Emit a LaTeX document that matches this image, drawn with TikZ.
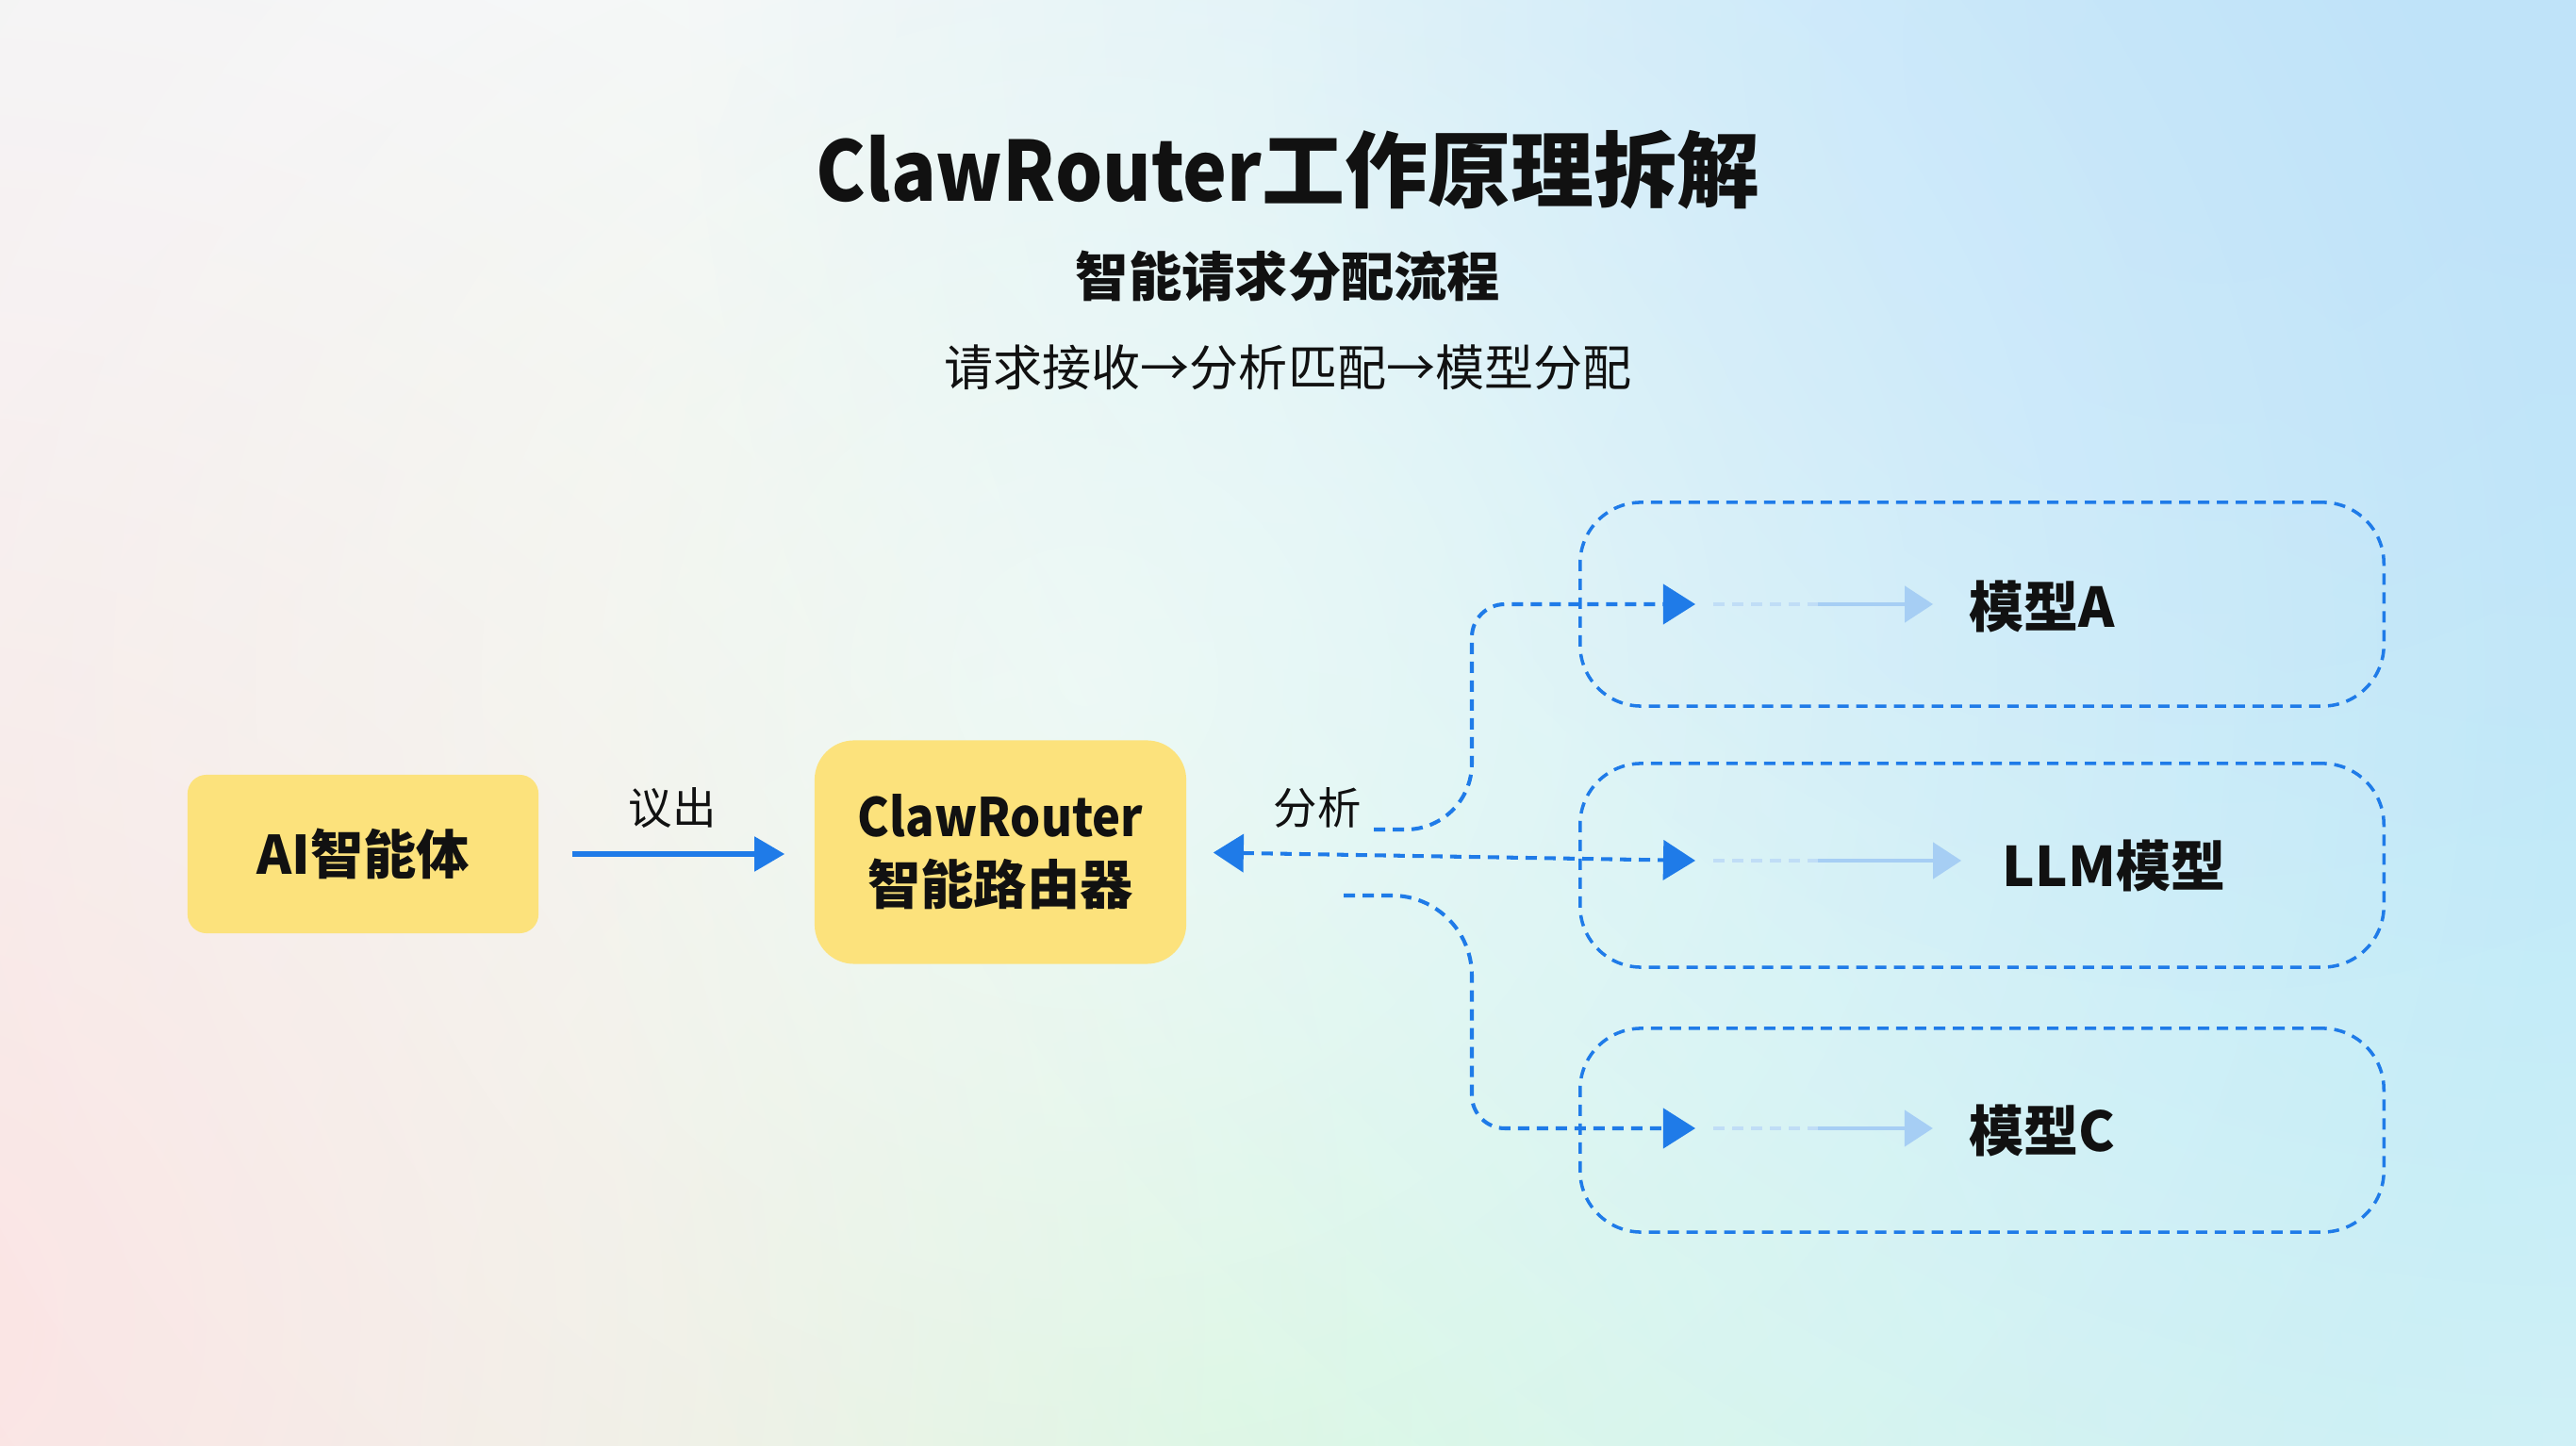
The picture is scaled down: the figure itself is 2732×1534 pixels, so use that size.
\documentclass[tikz,border=0pt]{standalone}
\usepackage{fontspec}
\setmainfont{Noto Sans CJK SC}
\usetikzlibrary{arrows.meta,fadings}
\definecolor{bluem}{HTML}{1F7BE8}
\definecolor{bluel}{HTML}{A6CEF4}
\definecolor{bluef}{HTML}{C0DDF6}
\definecolor{yel}{HTML}{FCE27C}
\definecolor{ink}{HTML}{111111}
\definecolor{bgbase}{HTML}{F3F6F7}
\definecolor{bgblue}{HTML}{BFE3FA}
\definecolor{bgcyan}{HTML}{C6F4F8}
\definecolor{bggreen}{HTML}{D2F8D4}
\definecolor{bgpink}{HTML}{FCE2E2}
\tikzfading[name=blobfade, inner color=transparent!0, outer color=transparent!100]
\newcommand{\narrow}[1]{\scalebox{0.9}[1]{#1}}
\tikzset{
  ybox/.style={fill=yel, text=ink, font=\bfseries\fontsize{16}{20.5}\selectfont, align=center, inner sep=0pt},
  mbox/.style={draw=bluem, line width=1pt, dash pattern=on 0.12cm off 0.08cm, rounded corners=0.65cm,
    minimum width=8.52cm, minimum height=2.16cm, inner sep=0pt},
  dline/.style={draw=bluem, line width=1.15pt, dash pattern=on 0.12cm off 0.08cm},
  tipm/.style={-{Triangle[length=0.34cm,width=0.42cm]}},
  fdash/.style={draw=bluef, line width=1.15pt, dash pattern=on 0.12cm off 0.08cm},
  fsolid/.style={draw=bluel, line width=1.3pt, -{Triangle[length=0.3cm,width=0.38cm]}},
  mlabel/.style={font=\bfseries\fontsize{16.5}{20}\selectfont, text=ink, inner sep=0pt},
  elabel/.style={font=\fontsize{13.2}{16}\selectfont, text=ink, inner sep=0pt},
}
\begin{document}
\begin{tikzpicture}[x=0.01cm,y=-0.01cm]
\useasboundingbox (0,0) rectangle (2732,1534);
\fill[bgbase] (0,0) rectangle (2732,1534);
\begin{scope}
\clip (0,0) rectangle (2732,1534);
\fill[bggreen, path fading=blobfade] (1300,1534) circle (17cm);
\fill[bgpink, path fading=blobfade] (-100,1400) circle (16cm);
\fill[bgcyan, path fading=blobfade] (2650,800) circle (20cm);
\fill[bgblue, path fading=blobfade] (2732,-50) circle (20cm);
\fill[bgblue, path fading=blobfade] (2350,50) circle (10cm);
\fill[white, opacity=0.55, path fading=blobfade] (1150,720) circle (16cm);
\end{scope}

% titles
\node[font=\bfseries\fontsize{25}{30}\selectfont, text=ink] (title) at (1366,180) {\narrow{ClawRouter}工作原理拆解};
\node[font=\bfseries\fontsize{16}{20}\selectfont, text=ink] (sub) at (1366,293) {智能请求分配流程};
\node[font=\fontsize{14.8}{19}\selectfont, text=ink] (steps) at (1366,390) {请求接收→分析匹配→模型分配};

% main boxes
\node[ybox, rounded corners=0.2cm, minimum width=3.72cm, minimum height=1.68cm] (agent) at (385,906) {AI智能体};
\node[ybox, rounded corners=0.42cm, minimum width=3.94cm, minimum height=2.37cm] (router) at (1061,904) {\narrow{ClawRouter}\\智能路由器};

% model boxes
\node[mbox] (boxA) at (2102,641) {};
\node[mbox] (boxL) at (2102,918) {};
\node[mbox] (boxC) at (2102,1199) {};

\node[mlabel] (lblA) at (2166,643) {模型A};
\node[mlabel] (lblL) at (2242,918) {LLM模型};
\node[mlabel] (lblC) at (2166,1199) {模型C};

% edge labels
\node[elabel] (lout) at (713,857) {议出};
\node[elabel] (lana) at (1397,857) {分析};

% arrow agent -> router
\draw[draw=bluem, line width=1.5pt, -{Triangle[length=0.32cm,width=0.36cm]}, shorten <=0.35cm, shorten >=0.31cm]
  (agent.east) -- (agent.east -| router.west);

% coordinates
\coordinate (mA) at (1798,641);
\coordinate (mL) at (1798,913);
\coordinate (mC) at (1798,1197);
\coordinate (sA) at (1457,880);
\coordinate (sC) at (1425,950);
\coordinate (vA) at (1561,880);
\coordinate (vA2) at (1561,641);
\coordinate (vC) at (1561,950);
\coordinate (vC2) at (1561,1197);

% middle branch
\draw[dline, {Triangle[length=0.32cm,width=0.4cm]}-{Triangle[length=0.34cm,width=0.42cm]}, shorten <=0.28cm]
  (router.east) -- (mL);
% upper branch
\draw[dline, tipm, rounded corners=0.7cm] (sA) -- (vA) [rounded corners=0.35cm] -- (vA2) -- (mA);
% lower branch
\draw[dline, tipm, rounded corners=0.85cm] (sC) -- (vC) [rounded corners=0.35cm] -- (vC2) -- (mC);

% faded arrows
\draw[fdash] ([xshift=0.19cm]mA) -- ([xshift=1.3cm]mA);
\draw[fsolid] ([xshift=1.3cm]mA) -- ([xshift=-0.38cm]lblA.west |- mA);
\draw[fdash] ([xshift=0.19cm]mL) -- ([xshift=1.3cm]mL);
\draw[fsolid] ([xshift=1.3cm]mL) -- ([xshift=-0.43cm]lblL.west |- mL);
\draw[fdash] ([xshift=0.19cm]mC) -- ([xshift=1.3cm]mC);
\draw[fsolid] ([xshift=1.3cm]mC) -- ([xshift=-0.38cm]lblC.west |- mC);
\end{tikzpicture}
\end{document}
